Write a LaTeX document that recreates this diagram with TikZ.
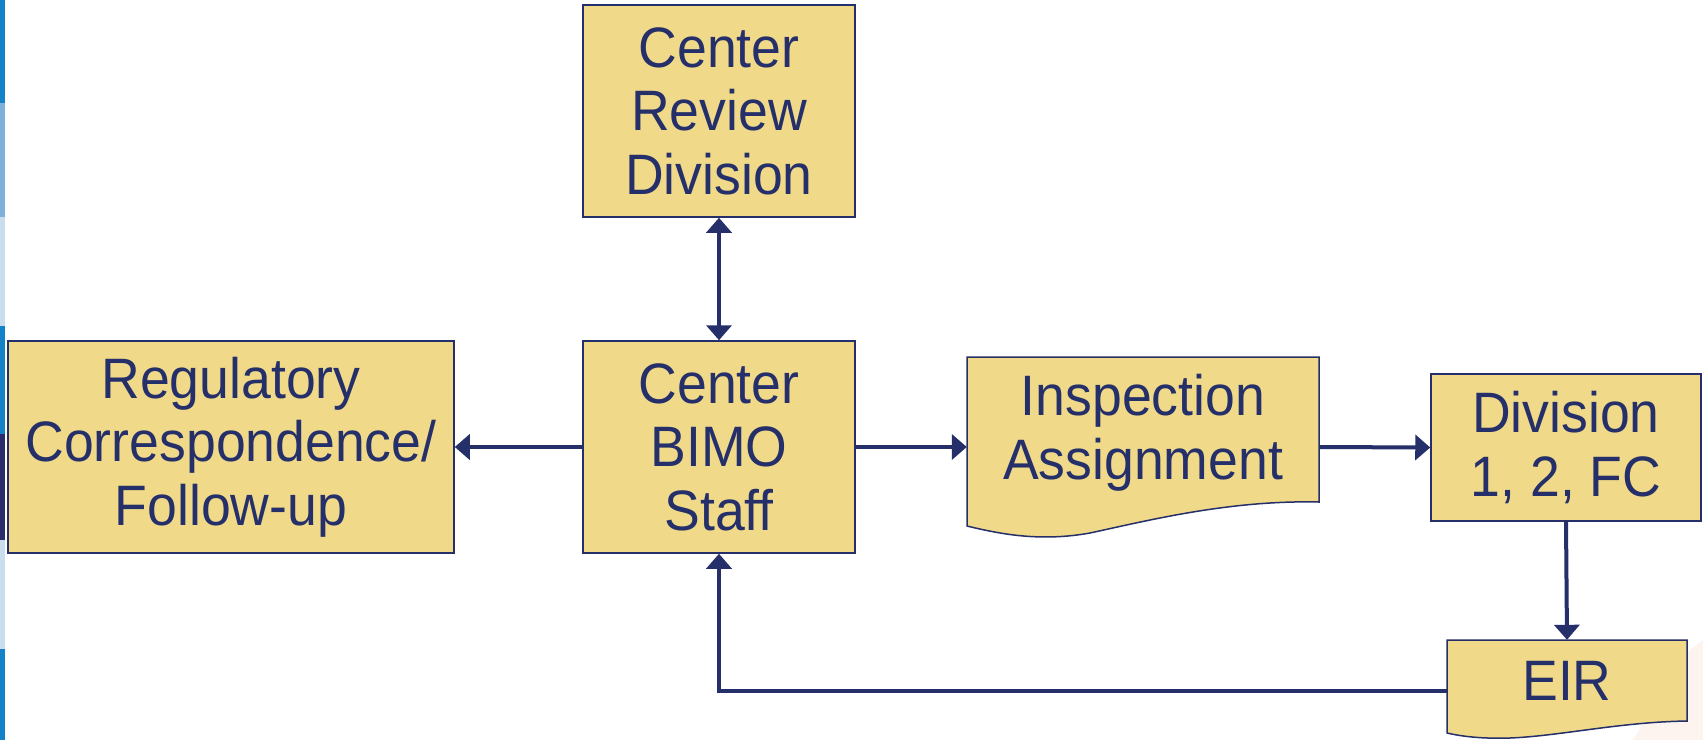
\documentclass[tikz,border=0pt]{standalone}
\usepackage{fontspec}
\setmainfont[FakeStretch=0.94]{Liberation Sans}
\usetikzlibrary{arrows.meta}
\definecolor{boxfill}{HTML}{F0DA8A}
\definecolor{ink}{HTML}{252F69}
\definecolor{stripA}{HTML}{1382C6}
\definecolor{stripB}{HTML}{7FB2DA}
\definecolor{stripC}{HTML}{C8DDEE}
\definecolor{stripD}{HTML}{2B2D6B}
\definecolor{blush}{HTML}{FDF3EF}
\tikzset{
  box/.style={draw=ink, line width=1.5pt, fill=boxfill, text=ink, align=center,
    inner sep=0pt, font=\fontsize{57}{63.5}\selectfont},
  holder/.style={draw=none, inner sep=0pt},
  lbl/.style={text=ink, align=center, inner sep=0pt, font=\fontsize{57}{63.5}\selectfont},
  docshape/.style={draw=ink, line width=1.5pt, fill=boxfill},
  conn/.style={draw=ink, line width=4pt, -{Triangle[width=25pt,length=15pt]}},
  conn2/.style={draw=ink, line width=4pt, {Triangle[width=25pt,length=15pt]}-{Triangle[width=25pt,length=15pt]}}
}
\begin{document}
\begin{tikzpicture}[x=1pt,y=-1pt]
\useasboundingbox (0,0) rectangle (1703,740);
\fill[white] (0,0) rectangle (1703,740);

% slide edge strip
\fill[stripA] (0,0) rectangle (5,103);
\fill[stripB] (0,103) rectangle (5,217);
\fill[stripC] (0,217) rectangle (5,326);
\fill[stripA] (0,326) rectangle (5,434);
\fill[stripD] (0,434) rectangle (5,540);
\fill[stripC] (0,540) rectangle (5,649);
\fill[stripA] (0,649) rectangle (5,740);

% faint background wedge
\fill[blush] (1690,650) -- (1703,640) -- (1703,740) -- (1633,740) -- cycle;

% rectangular process boxes
\node[box, minimum width=272pt, minimum height=212pt] (review) at (719,111) {Center\\Review\\Division};
\node[box, minimum width=446pt, minimum height=212pt] (reg) at (231,447) {Regulatory\\Correspondence/\\Follow-up};
\node[box, minimum width=272pt, minimum height=212pt] (bimo) at (719,447) {Center\\BIMO\\Staff};
\node[box, minimum width=270pt, minimum height=147pt] (div) at (1566,447.5) {Division\\1, 2, FC};

% document shapes
\path[docshape] (967,357) -- (1319,357) -- (1319,502)
  .. controls (1230,500) and (1150,520) .. (1090,533)
  .. controls (1040,542) and (1000,534) .. (967,526) -- cycle;
\node[holder, minimum width=352pt, minimum height=180pt] (insp) at (1143,447) {};
\node[lbl] (insptext) at (1143,433) {Inspection\\Assignment};

\path[docshape] (1447,640) -- (1687,640) -- (1687,721)
  .. controls (1620,722) and (1560,736) .. (1510,738)
  .. controls (1480,739) and (1460,736) .. (1447,733) -- cycle;
\node[holder, minimum width=240pt, minimum height=102pt] (eir) at (1567,691) {};
\node[lbl] (eirtext) at (1567,681) {EIR};

% connectors
\draw[conn2] (review.south) -- (bimo.north);
\draw[conn] (bimo.west) -- (reg.east);
\draw[conn] (bimo.east) -- (insp.west);
\draw[conn] (insp.east) -- (div.west);
\draw[conn] (div.south) -- (eir.north);
\draw[conn] (eir.west) -| (bimo.south);
\end{tikzpicture}
\end{document}
